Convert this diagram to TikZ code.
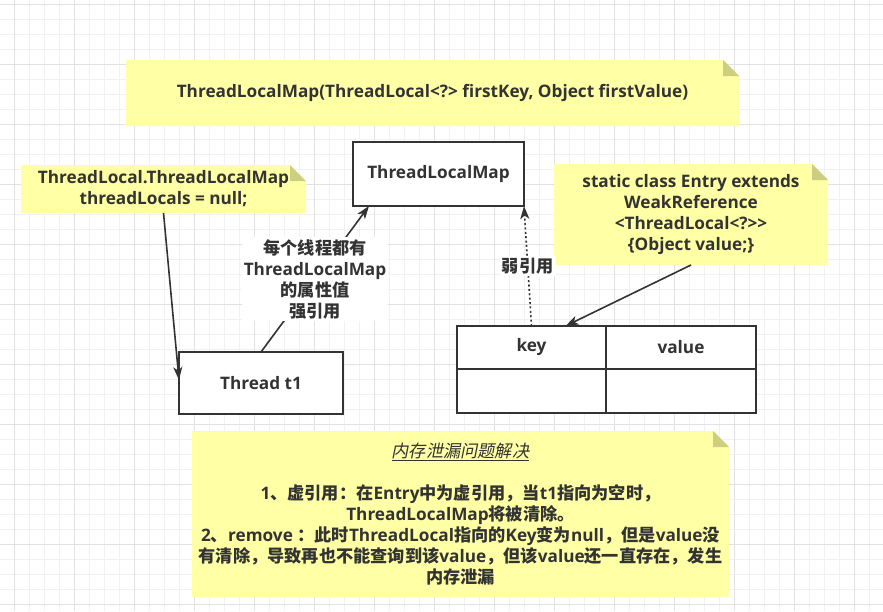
\documentclass[tikz,border=0pt]{standalone}
\usepackage{fontspec}
\setmainfont{Open Sans}
\newfontfamily\cjk{Noto Sans CJK SC}
\newfontfamily\cjkslant{Noto Sans CJK SC}[FakeSlant=0.2]
\usepackage{tikz}
\usetikzlibrary{positioning, arrows.meta}

\definecolor{notefill}{RGB}{255,255,166}
\definecolor{foldfill}{RGB}{206,206,128}
\definecolor{inkgray}{RGB}{51,51,51}
\definecolor{gridminor}{RGB}{241,241,241}
\definecolor{gridmajor}{RGB}{226,226,226}

\pgfdeclarelayer{background}
\pgfsetlayers{background,main}

\newcommand{\zh}[1]{{\cjk #1}}
% yellow note with the folded top right corner, drawn behind the text node
\newcommand{\foldnote}[1]{%
  \begin{pgfonlayer}{background}
    \fill [notefill] (#1.north west) -- ([xshift=-16pt]#1.north east) -- ([yshift=-16pt]#1.north east) -- (#1.south east) -- (#1.south west) -- cycle;
    \fill [foldfill] ([xshift=-16pt]#1.north east) -- ([xshift=-16pt, yshift=-16pt]#1.north east) -- ([yshift=-16pt]#1.north east) -- cycle;
  \end{pgfonlayer}}

\begin{document}
\begin{tikzpicture}[x=1pt, y=-1pt, >={Stealth[length=13pt, width=9pt, inset=3.5pt]},
    txt/.style={text=inkgray, font=\bfseries\fontsize{17.2}{21}\selectfont, align=center},
    box/.style={txt, draw=inkgray, line width=1.6pt, fill=white, rectangle, inner sep=0pt, outer sep=0pt},
    cell/.style={box, minimum height=43pt},
    note/.style={txt, rectangle, inner sep=0pt, outer sep=0pt},
    arr/.style={draw=inkgray, line width=1.6pt, ->},
    weak/.style={arr, dash pattern=on 2pt off 2.4pt},
    lbl/.style={txt, fill=white, inner sep=2pt}]
    \useasboundingbox (0,0) rectangle (883,611);

    % background grid
    \begin{pgfonlayer}{background}
    \fill [white] (0,0) rectangle (883,611);
    \foreach \x in {14,29,...,883} \draw [gridminor, line width=1pt] (\x,0) -- (\x,611);
    \foreach \y in {4,19,...,611} \draw [gridminor, line width=1pt] (0,\y) -- (883,\y);
    \foreach \x in {14,74,...,883} \draw [gridmajor, line width=1pt] (\x,0) -- (\x,611);
    \foreach \y in {4,64,...,611} \draw [gridmajor, line width=1pt] (0,\y) -- (883,\y);
    \end{pgfonlayer}

    \node [note, minimum width=613pt, minimum height=66pt] (ctor) at (432.5,93) {ThreadLocalMap(ThreadLocal<?> firstKey, Object firstValue)};
    \foldnote{ctor}
    \node [note, minimum width=285pt, minimum height=48pt] (field) at (163.5,189) {ThreadLocal.ThreadLocalMap\\threadLocals = null;};
    \foldnote{field}
    \node [note, minimum width=274pt, minimum height=101pt] (entry) at (691,214.5) {static class Entry extends\\WeakReference\\<ThreadLocal<?>{}>\\\{Object value;\}};
    \foldnote{entry}
    \node [note, minimum width=537pt, minimum height=166pt] (fix) at (460.5,514) {%
        {\cjkslant\mdseries\underline{内存泄漏问题解决}}\\[21pt]
        1\zh{、虚引用：在}Entry\zh{中为虚引用，当}t1\zh{指向为空时，}\\
        ThreadLocalMap\zh{将被清除。}\\
        2\zh{、}remove \zh{：此时}ThreadLocal\zh{指向的}Key\zh{变为}null\zh{，但是}value\zh{没}\\
        \zh{有清除，导致再也不能查询到该}value\zh{，但该}value\zh{还一直存在，发生}\\
        \zh{内存泄漏}};
    \foldnote{fix}

    \node [box, minimum width=171pt, minimum height=64pt] (tlm) at (438.5,174) {ThreadLocalMap};
    \node [box, minimum width=164pt, minimum height=62pt] (t1) at (261,383) {Thread t1};

    \node [cell, minimum width=149pt] (keycell) at (531.5,347.5) {key};
    \node [cell, minimum width=150pt, right=0pt of keycell] (valcell) {value};
    \node [cell, minimum width=149pt, minimum height=44pt, below=0pt of keycell] (keyslot) {};
    \node [cell, minimum width=150pt, minimum height=44pt, below=0pt of valcell] (valslot) {};

    \draw [arr] (field.south) -- ([yshift=3pt]t1.west);
    \draw [arr] (t1.north) -- ([xshift=16pt]tlm.south west)
        node [lbl, midway] {\zh{每个线程都有}\\ThreadLocalMap\\\zh{的属性值}\\\zh{强引用}};
    \draw [weak] (keycell.north) -- (tlm.south east)
        node [lbl, midway] {\zh{弱引用}};
    \draw [arr] (entry.south) -- ([xshift=34pt]keycell.north);
\end{tikzpicture}
\end{document}
